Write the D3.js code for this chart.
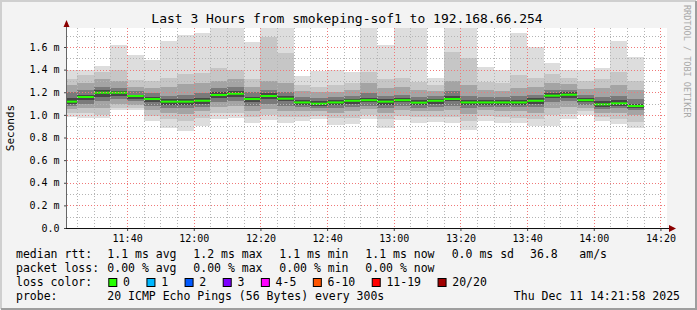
<!DOCTYPE html>
<html>
<head>
<meta charset="utf-8">
<script src="https://cdn.jsdelivr.net/npm/d3@7"></script>
<style>
body { margin: 0; background: #f3f3f3; }
svg text { font-family: "DejaVu Sans Mono", monospace; fill: #000; }
</style>
</head>
<body>
<svg id="chart" width="697" height="310"></svg>
<script>
// one entry per 5 minute step, 11:20 .. 14:10 (values in ms)
var median = [1.117, 1.158, 1.196, 1.196, 1.167, 1.140, 1.117, 1.117, 1.125, 1.176, 1.187, 1.140,
              1.167, 1.143, 1.110, 1.099, 1.110, 1.125, 1.130, 1.117, 1.130, 1.108, 1.125, 1.140,
              1.110, 1.110, 1.110, 1.110, 1.125, 1.170, 1.178, 1.130, 1.093, 1.102, 1.078];
var pingMax = [1.40, 1.40, 1.43, 1.62, 1.53, 1.485, 1.653, 1.706, 1.727, 1.80, 1.80, 1.647,
               1.80, 1.80, 1.344, 1.39, 1.397, 1.38, 1.80, 1.618, 1.80, 1.80, 1.325, 1.80,
               1.80, 1.426, 1.40, 1.727, 1.603, 1.456, 1.397, 1.397, 1.417, 1.653, 1.514];
var pingMin = [0.98, 0.975, 0.97, 1.04, 1.04, 0.945, 0.88, 0.86, 0.90, 0.96, 0.97, 0.925,
               0.955, 0.93, 0.946, 0.96, 0.913, 0.92, 0.96, 0.88, 0.955, 0.925, 0.935, 0.93,
               0.87, 0.945, 0.93, 0.93, 0.90, 0.905, 0.96, 1.00, 0.945, 0.92, 0.88];
var band2Hi = [1.32, 1.35, 1.38, 1.40, 1.31, 1.30, 1.33, 1.36, 1.37, 1.41, 1.40, 1.32,
               1.69, 1.55, 1.26, 1.25, 1.26, 1.28, 1.38, 1.32, 1.33, 1.29, 1.26, 1.56,
               1.50, 1.29, 1.28, 1.35, 1.33, 1.36, 1.33, 1.30, 1.32, 1.38, 1.30];
var band2Lo = [1.02, 1.02, 1.00, 1.06, 1.06, 0.99, 0.96, 0.95, 0.97, 1.02, 1.02, 0.98,
               1.00, 0.98, 0.98, 0.99, 0.97, 0.97, 1.00, 0.96, 0.99, 0.98, 0.98, 0.98,
               0.95, 0.99, 0.98, 0.97, 0.96, 1.00, 1.01, 1.03, 0.98, 0.96, 0.94];
var band3Hi = [1.26, 1.28, 1.32, 1.30, 1.25, 1.24, 1.25, 1.27, 1.28, 1.30, 1.32, 1.25,
               1.30, 1.28, 1.21, 1.20, 1.20, 1.22, 1.28, 1.24, 1.25, 1.22, 1.21, 1.30,
               1.26, 1.22, 1.21, 1.24, 1.25, 1.28, 1.27, 1.23, 1.24, 1.26, 1.22];
var band3Lo = [1.05, 1.06, 1.06, 1.10, 1.09, 1.04, 1.02, 1.01, 1.03, 1.07, 1.08, 1.03,
               1.05, 1.03, 1.03, 1.03, 1.02, 1.03, 1.05, 1.02, 1.04, 1.03, 1.03, 1.04,
               1.01, 1.04, 1.03, 1.03, 1.02, 1.06, 1.07, 1.06, 1.02, 1.02, 1.00];
var band4Hi = [1.20, 1.22, 1.25, 1.24, 1.21, 1.19, 1.17, 1.18, 1.19, 1.24, 1.25, 1.20,
               1.22, 1.20, 1.16, 1.15, 1.16, 1.17, 1.19, 1.17, 1.18, 1.16, 1.17, 1.21,
               1.17, 1.16, 1.16, 1.17, 1.18, 1.22, 1.22, 1.18, 1.16, 1.17, 1.14];
var band4Lo = [1.08, 1.10, 1.12, 1.14, 1.12, 1.08, 1.06, 1.06, 1.07, 1.11, 1.12, 1.08,
               1.10, 1.08, 1.07, 1.06, 1.06, 1.07, 1.08, 1.06, 1.08, 1.06, 1.07, 1.08,
               1.06, 1.07, 1.07, 1.07, 1.07, 1.11, 1.12, 1.09, 1.05, 1.06, 1.04];
var band5Hi = [1.15, 1.18, 1.22, 1.21, 1.18, 1.16, 1.14, 1.14, 1.15, 1.20, 1.21, 1.16,
               1.19, 1.17, 1.13, 1.12, 1.13, 1.14, 1.15, 1.14, 1.15, 1.13, 1.14, 1.17,
               1.13, 1.13, 1.13, 1.13, 1.15, 1.19, 1.20, 1.15, 1.12, 1.13, 1.10];
var band5Lo = [1.10, 1.13, 1.16, 1.17, 1.14, 1.11, 1.09, 1.09, 1.10, 1.15, 1.16, 1.11,
               1.14, 1.12, 1.09, 1.08, 1.09, 1.10, 1.11, 1.09, 1.11, 1.09, 1.10, 1.12,
               1.09, 1.09, 1.09, 1.09, 1.10, 1.15, 1.15, 1.11, 1.07, 1.08, 1.06];

var lossLabels = ["0", "1", "2", "3", "4-5", "6-10", "11-19", "20/20"];
var lossColors = ["#26ff00", "#00b8ff", "#0059ff", "#7e00ff", "#ff00ff", "#ff5500", "#ff0000", "#a10000"];

var rttRow = ["1.1 ms avg", "1.2 ms max", "1.1 ms min", "1.1 ms now", "0.0 ms sd", "36.8", "am/s"];
var lossRow = ["0.00 % avg", "0.00 % max", "0.00 % min", "0.00 % now"];

var svg = d3.select("#chart");
var W = 697, H = 310;
var pL = 67, pR = 667, pT = 28, pB = 228;

// background + 3d frame
svg.append("rect").attr("width", W).attr("height", H).attr("fill", "#f3f3f3");
svg.append("path").attr("d", "M1,309V1H696").attr("fill", "none").attr("stroke", "#cfcfcf").attr("stroke-width", 2);
svg.append("path").attr("d", "M1,309H696V1").attr("fill", "none").attr("stroke", "#9e9e9e").attr("stroke-width", 2);
svg.append("rect").attr("x", pL).attr("y", pT).attr("width", pR - pL).attr("height", pB - pT).attr("fill", "#fff");

var t0 = Date.UTC(2025, 11, 11, 11, 21, 58), t1 = Date.UTC(2025, 11, 11, 14, 21, 58);
var x = d3.scaleUtc().domain([t0, t1]).range([pL, pR]);
var y = d3.scaleLinear().domain([0, 1.768]).range([pB, pT]);

var steps = d3.utcMinute.every(5).range(new Date(Date.UTC(2025, 11, 11, 11, 20)), new Date(Date.UTC(2025, 11, 11, 14, 15)));

svg.append("clipPath").attr("id", "plotclip").append("rect")
    .attr("x", pL).attr("y", pT).attr("width", pR - pL).attr("height", pB - pT);
var plot = svg.append("g").attr("clip-path", "url(#plotclip)");

// smoke, outer band first
var bands = [
    {hi: pingMax, lo: pingMin, color: "#dddddd"},
    {hi: band2Hi, lo: band2Lo, color: "#c6c6c6"},
    {hi: band3Hi, lo: band3Lo, color: "#a4a4a4"},
    {hi: band4Hi, lo: band4Lo, color: "#7a7a7a"},
    {hi: band5Hi, lo: band5Lo, color: "#474747"}
];
bands.forEach(function(b) {
    plot.append("g").selectAll("rect")
        .data(steps)
        .enter().append("rect")
        .attr("x", function(d) { return x(d); })
        .attr("width", function(d) { return x(d3.utcMinute.offset(d, 5)) - x(d); })
        .attr("y", function(d, i) { return y(b.hi[i]); })
        .attr("height", function(d, i) { return y(b.lo[i]) - y(b.hi[i]); })
        .attr("fill", b.color)
        .attr("shape-rendering", "crispEdges");
});

// grid over the smoke
var grid = svg.append("g").attr("stroke-width", 1).attr("stroke-dasharray", "1,2")
    .attr("shape-rendering", "crispEdges");
grid.selectAll(".vmin").data(x.ticks(d3.utcMinute.every(5)))
    .enter().append("line")
    .attr("x1", function(d) { return Math.round(x(d)) + 0.5; })
    .attr("x2", function(d) { return Math.round(x(d)) + 0.5; })
    .attr("y1", pT).attr("y2", pB)
    .attr("stroke", "#b4b4b4");
grid.selectAll(".hmin").data(y.ticks(18))
    .enter().append("line")
    .attr("y1", function(d) { return Math.round(y(d)) + 0.5; })
    .attr("y2", function(d) { return Math.round(y(d)) + 0.5; })
    .attr("x1", pL).attr("x2", pR)
    .attr("stroke", "#b4b4b4");
grid.selectAll(".vmaj").data(x.ticks(d3.utcMinute.every(20)))
    .enter().append("line")
    .attr("x1", function(d) { return Math.round(x(d)) + 0.5; })
    .attr("x2", function(d) { return Math.round(x(d)) + 0.5; })
    .attr("y1", pT).attr("y2", pB)
    .attr("stroke", "#f07878");
grid.selectAll(".hmaj").data(y.ticks(9))
    .enter().append("line")
    .attr("y1", function(d) { return Math.round(y(d)) + 0.5; })
    .attr("y2", function(d) { return Math.round(y(d)) + 0.5; })
    .attr("x1", pL).attr("x2", pR)
    .attr("stroke", "#f07878");

// median, coloured by loss (all 0 here)
plot.append("g").selectAll("rect")
    .data(steps)
    .enter().append("rect")
    .attr("x", function(d) { return x(d); })
    .attr("width", function(d) { return x(d3.utcMinute.offset(d, 5)) - x(d); })
    .attr("y", function(d, i) { return y(median[i]) - 1; })
    .attr("height", 2)
    .attr("fill", lossColors[0]);

// axes
var yAxis = d3.axisLeft(y).tickValues(y.ticks(9)).tickSize(3).tickPadding(4.5)
    .tickFormat(function(d) { return d === 0 ? "0.0" : d3.format(".1f")(d) + " m"; });
var gy = svg.append("g").attr("transform", "translate(" + pL + ",0)").call(yAxis);
gy.select(".domain").remove();
gy.selectAll("text").style("font-size", "10px").style("font-family", "DejaVu Sans Mono");
gy.selectAll("line").attr("stroke", "#444");

var xAxis = d3.axisBottom(x).ticks(d3.utcMinute.every(20)).tickSize(3).tickPadding(4)
    .tickFormat(d3.utcFormat("%H:%M"));
var gx = svg.append("g").attr("transform", "translate(0," + pB + ")").call(xAxis);
gx.select(".domain").remove();
gx.selectAll("text").style("font-size", "10px").style("font-family", "DejaVu Sans Mono");
gx.selectAll("line").attr("stroke", "#444");

svg.append("line").attr("x1", pL - 0.5).attr("x2", pL - 0.5).attr("y1", pB + 1).attr("y2", 24)
    .attr("stroke", "#666");
svg.append("line").attr("x1", pL - 1).attr("x2", 671).attr("y1", pB + 0.5).attr("y2", pB + 0.5)
    .attr("stroke", "#111");
svg.append("path").attr("d", "M63.5,27L66.5,20L69.5,27Z").attr("fill", "#8b0000");
svg.append("path").attr("d", "M669,225L676,228.5L669,232Z").attr("fill", "#8b0000");

// titles
svg.append("text").attr("x", 347).attr("y", 23).attr("text-anchor", "middle")
    .style("font-size", "13px").text("Last 3 Hours from smokeping-sof1 to 192.168.66.254");
svg.append("text").attr("transform", "translate(13.5,128) rotate(-90)").attr("text-anchor", "middle")
    .style("font-size", "11px").text("Seconds");
svg.append("text").attr("transform", "translate(684,5) rotate(90)")
    .style("font-size", "8.5px").style("fill", "#a8a8a8").text("RRDTOOL / TOBI OETIKER");

// legend
var legendFont = "11.5px";
var rowY = [258, 272, 286, 299.5];
var colX = [107.3, 193.3, 279.3, 365.3, 451.7, 530, 579.3];
function label(txt, tx, ty) {
    return svg.append("text").attr("x", tx).attr("y", ty).style("font-size", legendFont)
        .attr("xml:space", "preserve").text(txt);
}
label("median rtt:", 16, rowY[0]);
rttRow.forEach(function(s, i) { label(s, colX[i], rowY[0]); });
label("packet loss:", 16, rowY[1]);
lossRow.forEach(function(s, i) { label(s, colX[i], rowY[1]); });
label("loss color:", 16, rowY[2]);
var lx = 108.3;
lossLabels.forEach(function(s, i) {
    svg.append("rect").attr("x", lx + 0.5).attr("y", rowY[2] - 7.5).attr("width", 8).attr("height", 8)
        .attr("fill", lossColors[i]).attr("stroke", "#000");
    var t = label(s, lx + 14.7, rowY[2]);
    lx = lx + 14.7 + t.node().getComputedTextLength() + 16.5;
});
label("probe:", 16, rowY[3]);
label("20 ICMP Echo Pings (56 Bytes) every 300s", colX[0], rowY[3]);
label("Thu Dec 11 14:21:58 2025", 680, rowY[3]).attr("text-anchor", "end");
</script>
</body>
</html>
